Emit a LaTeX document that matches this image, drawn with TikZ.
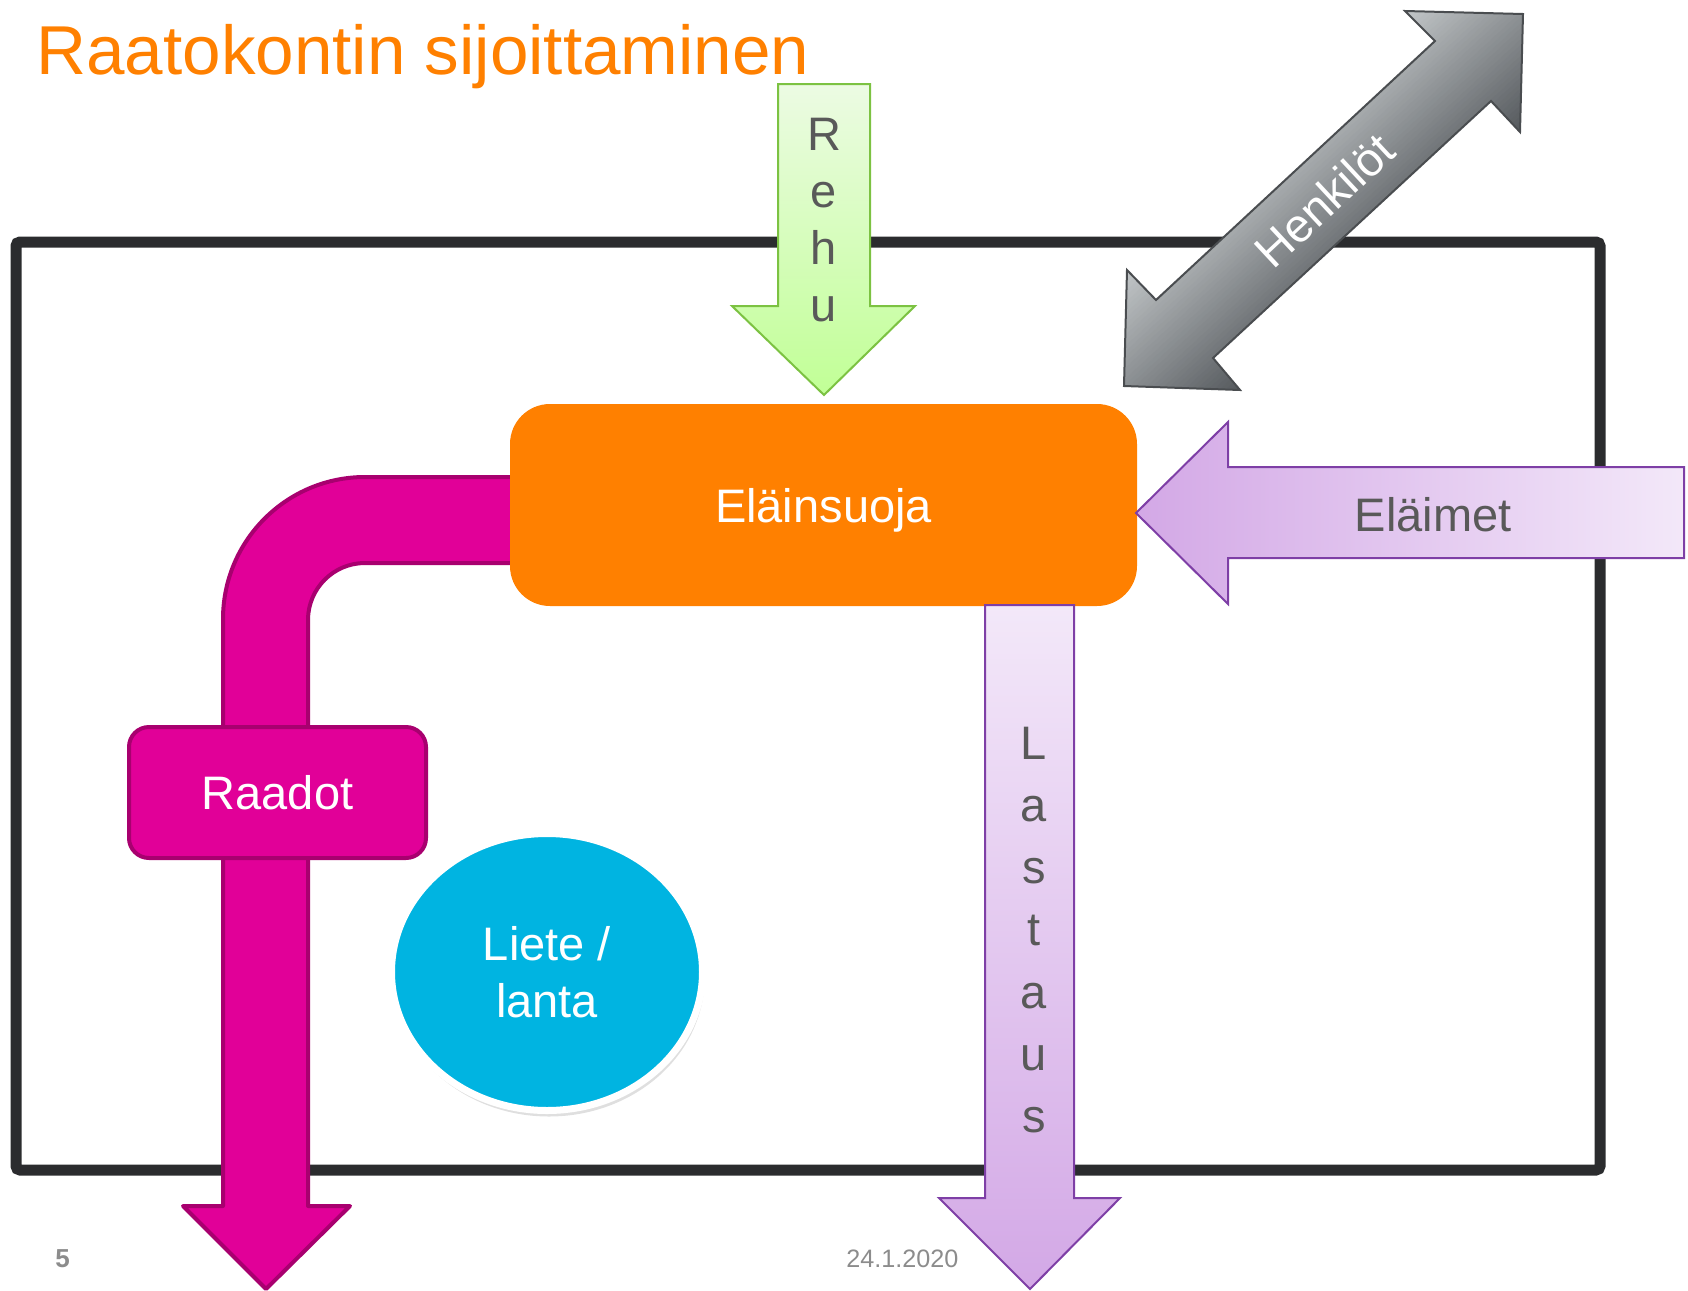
\documentclass[tikz,border=0pt]{standalone}
\usepackage{fontspec}
\setmainfont{Liberation Sans}
\usetikzlibrary{shapes.geometric}
\usetikzlibrary{shadows}

\definecolor{titleorange}{HTML}{FF8000}
\definecolor{framegray}{HTML}{2B2C2E}
\definecolor{raatopink}{HTML}{E10098}
\definecolor{raatoborder}{HTML}{A8006F}
\definecolor{lietecyan}{HTML}{00B4E1}
\definecolor{labelgray}{HTML}{595959}
\definecolor{footgray}{HTML}{8C8C8C}
\definecolor{rehuborder}{HTML}{7CC242}
\definecolor{rehutop}{HTML}{ECFBE3}
\definecolor{rehubottom}{HTML}{C1FF96}
\definecolor{lilaborder}{HTML}{7E3FA6}
\definecolor{lilalight}{HTML}{F3E8F9}
\definecolor{liladark}{HTML}{D3A8E6}
\definecolor{henklight}{HTML}{C2C6C8}
\definecolor{henkdark}{HTML}{53575B}
\definecolor{henkborder}{HTML}{4A4D50}

\tikzset{
    biglabel/.style={font=\fontsize{23.5}{28.5}\selectfont,inner sep=0pt},
    caplabel/.style={biglabel,text height=17pt,text depth=0pt},
    lilaarrow/.style={draw=lilaborder,line width=1pt,line join=miter}
}

\begin{document}
\begin{tikzpicture}[x=0.5pt,y=-0.5pt]
        \useasboundingbox (0,0) rectangle (1688,1291);

        % frame
        \draw[draw=framegray,line width=5.5pt,rounded corners=2pt] (16,242) rectangle (1600,1170);

        % raadot pipe
        \draw[fill=raatopink,draw=raatoborder,line width=2pt,line join=round]
            (530,477) -- (365,477) .. controls (286.6,477) and (223,540.6) .. (223,619)
            -- (223,1206) -- (183,1206) -- (266,1289) -- (350,1206) -- (308,1206)
            -- (308,620) .. controls (308,588.5) and (333.5,563) .. (365,563)
            -- (530,563) -- cycle;
        \node[rectangle,rounded corners=10pt,fill=raatopink,draw=raatoborder,line width=2pt,
            minimum width=148.5pt,minimum height=65.5pt,caplabel,text=white] (raadot) at (277.5,792.5) {Raadot};

        % elainsuoja
        \node[rectangle,rounded corners=20pt,fill=titleorange,minimum width=313.5pt,minimum height=101pt,
            caplabel,text=white] (suoja) at (823.5,505) {Eläinsuoja};

        % rehu
        \shadedraw[top color=rehutop,bottom color=rehubottom,draw=rehuborder,line width=1pt]
            (778,84) -- (870,84) -- (870,306) -- (915,306) -- (824,395) -- (732,306) -- (778,306) -- cycle;
        \foreach \ch [count=\i] in {R,e,h,u}
            \node[biglabel,anchor=base,text=labelgray] (rehu\i) at (824,{150+57.3*(\i-1)}) {\ch};

        % henkilot
        \begin{scope}
            \clip (1523,14) -- (1520,132) -- (1491,101) -- (1213,358) -- (1240,390) -- (1124,386)
                -- (1127,270) -- (1156,300) -- (1435,41) -- (1405,11) -- cycle;
            \begin{scope}[shift={(1324,200)},x={(0.3665pt,0.34pt)},y={(0.34pt,-0.3665pt)}]
                \foreach \t in {-92,-88,...,92} {
                    \pgfmathsetmacro\pct{max(0,min(100,(\t+84)/1.68))}
                    \fill[henkdark!\pct!henklight] (-320,\t) -- (320,\t) -- (320,\t+4.6) -- (-320,\t+4.6) -- cycle;
                }
            \end{scope}
        \end{scope}
        \draw[draw=henkborder,line width=1pt,line join=miter]
            (1523,14) -- (1520,132) -- (1491,101) -- (1213,358) -- (1240,390) -- (1124,386)
            -- (1127,270) -- (1156,300) -- (1435,41) -- (1405,11) -- cycle;
        \node[biglabel,text height=17pt,text depth=0pt,text=white,rotate=43] (henk) at (1324,200) {Henkilöt};

        % elaimet
        \shadedraw[left color=liladark,right color=lilalight,lilaarrow]
            (1684,467) -- (1228,467) -- (1228,422) -- (1136,513) -- (1228,604) -- (1228,558) -- (1684,558) -- cycle;
        \node[caplabel,text=labelgray] (elaimet) at (1433,514) {Eläimet};

        % lastaus
        \shadedraw[top color=lilalight,bottom color=liladark,lilaarrow]
            (985,605) -- (1074,605) -- (1074,1198) -- (1120,1198) -- (1030,1289) -- (939,1198) -- (985,1198) -- cycle;
        \foreach \ch [count=\i] in {L,a,s,t,a,u,s}
            \node[biglabel,anchor=base,text=labelgray] (last\i) at (1034,{759+62.3*(\i-1)}) {\ch};

        % liete
        \node[ellipse,fill=lietecyan,draw=white,line width=3.5pt,minimum width=155.5pt,minimum height=138.5pt,
            drop shadow={opacity=0.25,shadow xshift=1pt,shadow yshift=-3pt},
            biglabel,align=center,text=white] (liete) at (547,972) {Liete /\\lanta};

        % title and footer
        \node[anchor=base west,inner sep=0pt,font=\fontsize{34.6}{40}\selectfont,text=titleorange] (title) at (36,74) {Raatokontin sijoittaminen};
        \node[anchor=base west,inner sep=0pt,font=\fontsize{13}{15}\selectfont\bfseries,text=footgray] (sivu) at (55,1267) {5};
        \node[anchor=base west,inner sep=0pt,font=\fontsize{12.6}{15}\selectfont,text=footgray] (pvm) at (846,1267) {24.1.2020};
    \end{tikzpicture}
\end{document}
